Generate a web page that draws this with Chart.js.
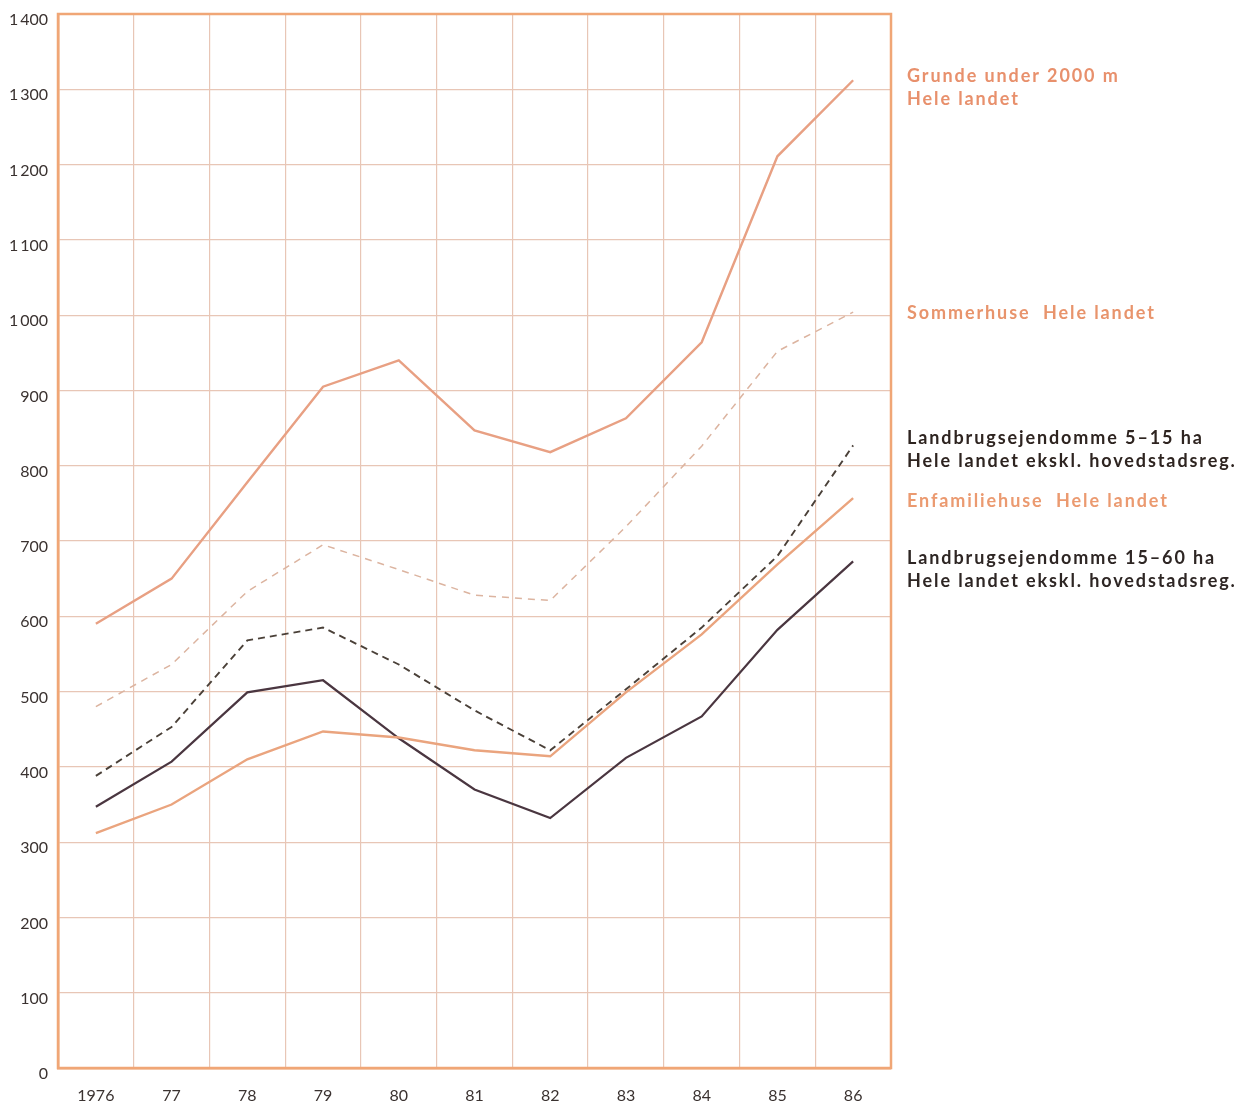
<!DOCTYPE html>
<html>
<head>
<meta charset="utf-8">
<script src="https://cdn.jsdelivr.net/npm/chart.js@4"></script>
<style>
  html, body { margin: 0; padding: 0; background: #fff; }
  #wrap { width: 1244px; height: 1102px; }
</style>
</head>
<body>
<div id="wrap"><canvas id="canvas-1" width="1244" height="1102"></canvas></div>
<script>
// years on the x axis
var years = ['1976', '77', '78', '79', '80', '81', '82', '83', '84', '85', '86'];

// series values
var grunde       = [590, 650, 778, 905, 940, 847, 818, 863, 964, 1211, 1312];
var sommerhuse   = [480, 536, 633, 695, 662, 628, 621, 719, 826, 952, 1004];
var landbrug515  = [388, 453, 568, 585, 536, 475, 422, 503, 585, 680, 827];
var enfamilie    = [312, 350, 410, 447, 439, 422, 414, 499, 576, 669, 757];
var landbrug1560 = [347, 407, 499, 515, 438, 370, 332, 412, 467, 582, 673];

// labels drawn to the right of the plot
var sideLabels = [
    { lines: ['Grunde under 2000 m', 'Hele landet'], y: 76, color: '#e8906c' },
    { lines: ['Sommerhuse  Hele landet'], y: 313, color: '#e8946c' },
    { lines: ['Landbrugsejendomme 5\u201315 ha', 'Hele landet ekskl. hovedstadsreg.'], y: 438, color: '#2e2420' },
    { lines: ['Enfamiliehuse  Hele landet'], y: 501, color: '#eb9a70' },
    { lines: ['Landbrugsejendomme 15\u201360 ha', 'Hele landet ekskl. hovedstadsreg.'], y: 558, color: '#2e2624' }
];

var sideLabelPlugin = {
    id: 'sideLabels',
    afterDraw: function (chart) {
        var ctx = chart.ctx;
        ctx.save();
        ctx.font = 'bold 18px Lato';
        ctx.letterSpacing = '1.9px';
        ctx.textBaseline = 'middle';
        ctx.textAlign = 'left';
        sideLabels.forEach(function (l) {
            ctx.fillStyle = l.color;
            l.lines.forEach(function (t, i) {
                ctx.fillText(t, 907, l.y + i * 23);
            });
        });
        ctx.restore();
    }
};

var line = function (label, data, color, width, dash) {
    return {
        label: label,
        data: data,
        borderColor: color,
        borderWidth: width,
        borderDash: dash,
        pointRadius: 0,
        tension: 0,
        fill: false
    };
};

var ctx = document.getElementById('canvas-1');
var chart = new Chart(ctx, {
    type: 'line',
    data: {
        labels: years,
        datasets: [
            line('Grunde under 2000 m', grunde, '#e8a083', 2.4, []),
            line('Sommerhuse', sommerhuse, '#dcb4a0', 1.5, [7, 6]),
            line('Landbrugsejendomme 5-15 ha', landbrug515, '#4a4038', 1.9, [7, 5]),
            line('Enfamiliehuse', enfamilie, '#eaa47e', 2.4, []),
            line('Landbrugsejendomme 15-60 ha', landbrug1560, '#4a3640', 2.2, [])
        ]
    },
    options: {
        responsive: false,
        animation: false,
        layout: { autoPadding: false, padding: { top: 14, right: 353, left: 1, bottom: 0 } },
        plugins: { legend: { display: false }, tooltip: { enabled: false } },
        scales: {
            x: {
                offset: true,
                grid: { offset: true, color: '#e8c6b6', lineWidth: 1.2, drawTicks: false },
                border: { color: '#f0a676', width: 2.5 },
                ticks: { color: '#3a3230', font: { family: 'Lato', size: 16 }, padding: 18, maxRotation: 0 },
                afterFit: function (s) { s.height = 34; }
            },
            y: {
                min: 0,
                max: 1400,
                grid: { color: '#e8c6b6', lineWidth: 1.2, drawTicks: false },
                border: { color: '#f0a676', width: 2.5 },
                ticks: {
                    stepSize: 100,
                    color: '#3a3230',
                    font: { family: 'Lato', size: 16 },
                    padding: 10,
                    labelOffset: 6,
                    callback: function (v) {
                        return v >= 1000 ? String(v).replace(/^(\d)/, '$1\u2009') : String(v);
                    }
                },
                afterFit: function (s) { s.width = 57; s.paddingTop = 0; s.paddingBottom = 0; }
            }
        }
    },
    plugins: [sideLabelPlugin, {
        id: 'frame',
        afterDraw: function (chart) {
            var a = chart.chartArea, c = chart.ctx;
            c.save();
            c.strokeStyle = '#f0a676';
            c.lineWidth = 2.5;
            c.strokeRect(a.left, a.top, a.right - a.left, a.bottom - a.top);
            c.restore();
        }
    }]
});
</script>
</body>
</html>
